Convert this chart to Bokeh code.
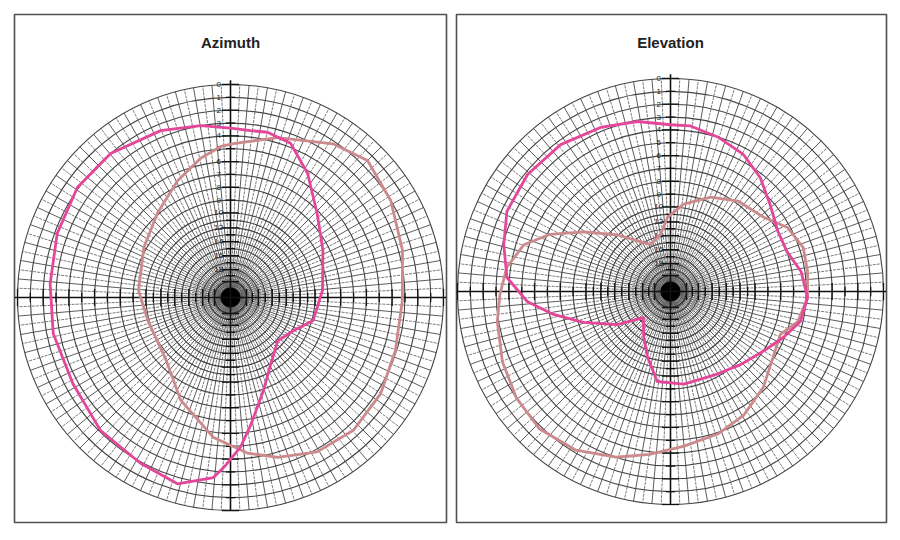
import numpy as np
from bokeh.plotting import figure
from bokeh.layouts import row
from bokeh.models import Range1d
from bokeh.embed import file_html
from bokeh.resources import INLINE
from bokeh.core.properties import value

# radial scale of the chart paper: dB below maximum -> normalised radius
DB_ANCH = [0, 10, 12, 14, 16, 18, 20, 25, 30]
R_ANCH = [1.0, 0.397, 0.327, 0.262, 0.196, 0.131, 0.075, 0.035, 0.0]
RING_DB = list(range(0, 21)) + [25]
LABEL_DB = [0, 1, 2, 3, 4, 5, 6, 7, 8, 9, 10, 12, 14, 16, 18]

# Azimuth pattern (angle in degrees clockwise from top, dB below maximum)
az_pink_ang = [0, 6.8, 12.6, 21.3, 31.8, 46.0, 62.9, 85.6, 105.5, 117.6, 132.5, 149.5,
               160.5, 171.1, 176.2, 181.7, 185.4, 195.9, 208.5, 224.3, 241.4, 258.5,
               274.4, 290.3, 305.7, 320.2, 337.3, 350.1]
az_pink_db = [3.4, 3.5, 3.4, 3.7, 5.2, 7.2, 8.5, 9.4, 9.9, 11.8, 12.8, 10.8,
              8.9, 6.5, 4.9, 3.5, 2.5, 1.5, 1.9, 2.1, 2.6, 2.5,
              2.5, 2.2, 1.9, 2.0, 2.5, 3.0]
az_sal_ang = [1.1, 16.4, 33.8, 45.0, 58.8, 74.7, 91.0, 107.8, 122.6, 137.2, 150.7,
              163.6, 173.8, 186.9, 205.9, 225.9, 254.5, 274.4, 299.9, 319.0, 335.6,
              347.9, 356.3]
az_sal_db = [4.6, 3.6, 2.2, 1.5, 2.0, 2.7, 3.2, 3.1, 2.7, 2.5, 2.8,
             3.6, 4.4, 5.6, 7.7, 9.6, 9.9, 9.4, 8.8, 7.9, 6.6,
             5.5, 4.8]

# Elevation pattern
el_pink_ang = [0, 6.9, 17.0, 28.0, 38.3, 49.0, 60.7, 71.1, 81.3, 92.5, 103.0, 112.2,
               122.8, 136.2, 150.5, 171.8, 188.4, 199.2, 210.4, 226.1, 238.1, 250.4,
               258.9, 266.0, 274.9, 285.7, 296.1, 309.3, 323.2, 336.9, 349.0]
el_pink_db = [3.6, 3.6, 4.0, 4.5, 5.3, 6.3, 7.0, 7.0, 6.3, 5.9, 6.2, 7.1,
              8.0, 8.7, 9.2, 9.3, 9.5, 12.0, 14.4, 16.6, 13.0, 9.4,
              7.3, 5.4, 3.8, 3.1, 2.4, 2.2, 2.3, 2.7, 3.1]
el_sal_ang = [8.5, 23.1, 36.7, 51.5, 61.3, 71.7, 81.7, 92.5, 103.3, 111.3, 122.6,
              135.9, 149.3, 161.4, 175.0, 187.3, 198.2, 210.8, 223.7, 235.3, 247.3,
              260.2, 269.0, 278.4, 287.7, 295.4, 304.6, 317.1, 336.9, 350.0, 357.7]
el_sal_db = [9.7, 8.6, 7.8, 7.3, 6.2, 5.7, 5.8, 5.9, 6.4, 7.4, 7.1,
             6.2, 5.4, 4.9, 4.5, 3.8, 3.0, 2.2, 1.8, 2.0, 2.4,
             2.9, 3.3, 3.7, 4.6, 6.2, 8.4, 11.0, 14.7, 13.7, 11.4]

PINK = "#e4479a"
SALMON = "#cc8a8c"
R_PX = 213.0


def rad(d):
    return np.interp(d, DB_ANCH, R_ANCH)


def to_xy(ang, db):
    a = np.radians(np.asarray(ang + [ang[0]], dtype=float))
    r = rad(np.asarray(db + [db[0]], dtype=float))
    return r * np.sin(a), r * np.cos(a)


def panel(title, pa, pdb, sa, sdb, fw, fh, ml, mr, mt, mb, left, right, up, down):
    p = figure(frame_width=fw, frame_height=fh,
               x_range=Range1d(-left / R_PX, right / R_PX),
               y_range=Range1d(-down / R_PX, up / R_PX),
               min_border_left=ml, min_border_right=mr,
               min_border_top=mt, min_border_bottom=mb,
               toolbar_location=None, output_backend="svg")
    p.axis.visible = False
    p.grid.visible = False
    p.background_fill_color = "white"
    p.border_fill_color = "white"
    p.outline_line_color = "#505050"
    p.outline_line_width = 1.6

    # radial lines
    a5 = np.radians(np.arange(0, 360, 5.0))
    p.segment(x0=0, y0=0, x1=np.sin(a5), y1=np.cos(a5), line_color="#4a4a4a", line_width=0.9)
    a25 = np.radians(np.arange(2.5, 360, 5.0))
    p.segment(x0=0, y0=0, x1=np.sin(a25), y1=np.cos(a25), line_color="#5a5a5a",
              line_width=0.8, line_dash="3 1")

    # rings
    rr = [float(rad(d)) for d in RING_DB]
    p.circle(x=[0] * len(rr), y=[0] * len(rr), radius=rr, fill_color=None,
             line_color="#444444", line_width=1.1)
    p.circle(x=[0], y=[0], radius=[float(rad(20))], fill_color=None,
             line_color="#333333", line_width=1.3)
    p.circle(x=[0], y=[0], radius=[0.045], fill_color="black", line_color="black")

    # main cross
    xl = -left / R_PX
    xr = right / R_PX
    p.segment(x0=[xl, 0], y0=[0, -1.0], x1=[xr, 0], y1=[0, 1.02],
              line_color="#111111", line_width=1.6)

    # ticks along the cross
    tx0, ty0, tx1, ty1 = [], [], [], []
    for d in range(0, 21):
        r = float(rad(d))
        h = 0.04 if d % 2 == 0 else 0.022
        for s in (1, -1):
            tx0 += [s * r]; ty0 += [-h]; tx1 += [s * r]; ty1 += [h]
            tx0 += [-h]; ty0 += [s * r]; tx1 += [h]; ty1 += [s * r]
    p.segment(x0=tx0, y0=ty0, x1=tx1, y1=ty1, line_color="#111111", line_width=1.3)

    # dB labels along the upper vertical axis
    p.text(x=[-0.055] * len(LABEL_DB), y=[float(rad(d)) for d in LABEL_DB],
           text=[str(d) for d in LABEL_DB], text_font=value("Liberation Sans"),
           text_font_size="8px", text_color="#222222", text_align="center",
           text_baseline="middle")

    # patterns
    sx, sy = to_xy(sa, sdb)
    p.line(sx, sy, line_color=SALMON, line_width=2.8, line_join="round")
    px, py = to_xy(pa, pdb)
    p.line(px, py, line_color=PINK, line_width=2.8, line_join="round")

    # title
    p.text(x=[0], y=[(up - 28) / R_PX], text=[title], text_font=value("Liberation Sans"),
           text_font_style="bold", text_font_size="15px", text_color="#222222",
           text_align="center", text_baseline="middle")
    return p


p1 = panel("Azimuth", az_pink_ang, az_pink_db, az_sal_ang, az_sal_db,
           432, 508, 14, 8, 14, 8, 216, 216, 283, 225)
p2 = panel("Elevation", el_pink_ang, el_pink_db, el_sal_ang, el_sal_db,
           430, 508, 2, 6, 14, 8, 214, 216, 277, 231)

layout = row(p1, p2)
open("out.html", "w").write(file_html(layout, INLINE))
